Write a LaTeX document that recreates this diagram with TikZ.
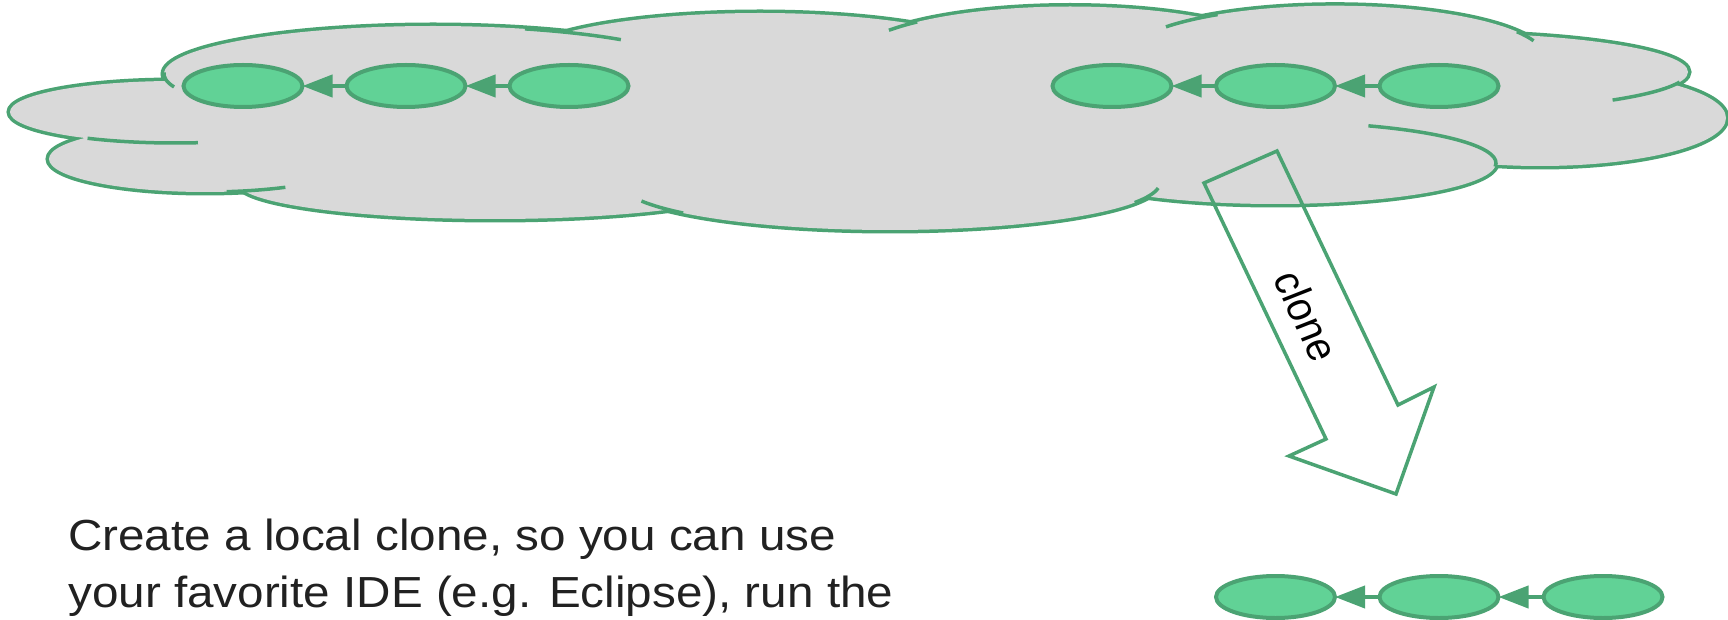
\documentclass[tikz,border=0pt]{standalone}
\usepackage{fontspec}
\setmainfont{Liberation Sans}
\usetikzlibrary{arrows.meta,shapes.geometric}
\definecolor{gline}{HTML}{4BA373}
\definecolor{gfill}{HTML}{61D296}
\definecolor{cloudgrey}{HTML}{D9D9D9}
\definecolor{txt}{HTML}{212121}
\begin{document}
\begin{tikzpicture}[x=1pt,y=-1pt,
  cloudedge/.style={draw=gline,line width=7pt},
  cloudtail/.style={draw=gline,line width=3.5pt},
  commit/.style={ellipse,draw=gline,fill=gfill,line width=4pt,minimum width=119pt,minimum height=42pt,inner sep=0pt,outer sep=0pt},
  parent/.style={draw=gline,line width=4pt,-{Triangle[length=30pt,width=22pt]}},
  bigarrow/.style={draw=gline,line width=3.5pt,line join=miter},
  body/.style={font=\fontsize{43.5}{52}\selectfont,text=txt,anchor=base west,inner sep=0pt,xscale=1.095},
  lbl/.style={font=\fontsize{39}{39}\selectfont,text=black,inner sep=0pt}
]
\useasboundingbox (0,0) rectangle (1728,620);
% cloud: outer outline (half of a double-width stroke survives)
\foreach \cx/\cy/\rx/\ry in {175/112/165/31, 433/74/269/48, 760/60.5/240/47.5, 1070/61.5/220/55, 1335/57.7/210/52, 1441/72/247/39, 1540/118/186/48, 1275/163/221/41, 890/182.5/270/47.5, 495/183/257/36, 205/159/156/33}
  \draw[cloudedge] (\cx,\cy) ellipse[x radius=\rx, y radius=\ry];
\fill[cloudgrey] (175,112) -- (433,74) -- (760,60.5) -- (1070,61.5) -- (1335,57.7) -- (1441,72) -- (1540,118) -- (1275,163) -- (890,182.5) -- (495,183) -- (205,159) -- cycle;
\foreach \cx/\cy/\rx/\ry in {175/112/165/31, 433/74/269/48, 760/60.5/240/47.5, 1070/61.5/220/55, 1335/57.7/210/52, 1441/72/247/39, 1540/118/186/48, 1275/163/221/41, 890/182.5/270/47.5, 495/183/257/36, 205/159/156/33}
  \fill[cloudgrey] (\cx,\cy) ellipse[x radius=\rx, y radius=\ry];
% interior ends of the cloud arcs
\foreach \cx/\cy/\rx/\ry/\s/\e in {433/74/269/48/164.3/182, 175/112/165/31/122/82, 205/159/156/33/82/59, 433/74/269/48/290/314.3, 890/182.5/270/47.5/157/140, 890/182.5/270/47.5/25/6.7, 1070/61.5/220/55/214.6/226, 1335/57.7/210/52/216.4/236, 1335/57.7/210/52/330/341, 1441/72/247/39/15/46, 1275/163/221/41/-65/5}
  \draw[cloudtail] ({\cx+\rx*cos(\s)},{\cy+\ry*sin(\s)}) arc[start angle=\s, end angle=\e, x radius=\rx, y radius=\ry];
% commits in the cloud, left
\node[commit] (a1) at (243,86) {};
\node[commit] (a2) at (406,86) {};
\node[commit] (a3) at (569,86) {};
\draw[parent] (a2) -- (a1);
\draw[parent] (a3) -- (a2);
% commits in the cloud, right
\node[commit] (b1) at (1112,86) {};
\node[commit] (b2) at (1275.5,86) {};
\node[commit] (b3) at (1439,86) {};
\draw[parent] (b2) -- (b1);
\draw[parent] (b3) -- (b2);
% local commits
\node[commit] (c1) at (1275.5,597) {};
\node[commit] (c2) at (1439,597) {};
\node[commit] (c3) at (1603,597) {};
\draw[parent] (c2) -- (c1);
\draw[parent] (c3) -- (c2);
% clone arrow
\coordinate (k1) at (1204,183);
\coordinate (k2) at (1277,151);
\coordinate (k3) at (1398,405);
\coordinate (k4) at (1434,387);
\coordinate (k5) at (1396,494);
\coordinate (k6) at (1289,456);
\coordinate (k7) at (1326,439);
\draw[bigarrow] (k1) -- (k2) -- (k3) -- (k4) -- (k5) -- (k6) -- (k7) -- cycle;
\node[lbl,xscale=1.1,rotate=-66.6] (clonelbl) at (1307,316) {clone};
% text
\node[body] (t1) at (68,550) {Create a local clone, so you can use};
\node[body] (t2) at (68,607) {your favorite IDE (e.g. Eclipse), run the};
\end{tikzpicture}
\end{document}
